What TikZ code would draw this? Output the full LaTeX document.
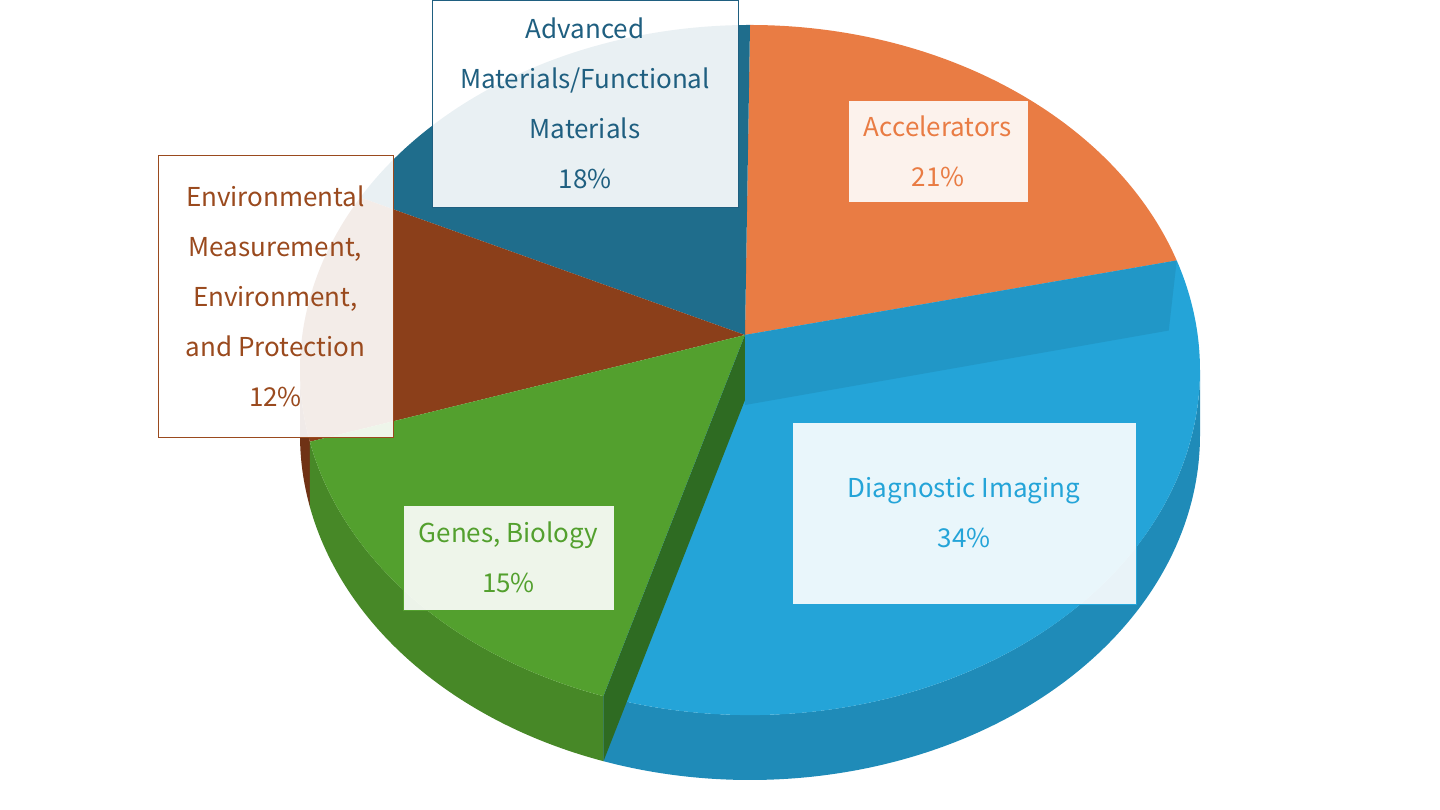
\documentclass[tikz,border=0pt]{standalone}
\usepackage{fontspec}
\setmainfont{Noto Sans CJK JP}
\usetikzlibrary{calc}
\begin{document}
\begin{tikzpicture}[x=1pt,y=1pt,
  ell/.style={x radius=450,y radius=345},
  lbl/.style={draw=#1, line width=0.8pt, fill=white, fill opacity=0.9, text opacity=1, text=#1, align=center, font=\fontsize{26}{50}\selectfont, inner sep=0pt}]
\useasboundingbox (0,0) rectangle (1440,810);
\definecolor{cor}{HTML}{E97C44}\definecolor{cbl}{HTML}{24A4D8}
\definecolor{cdb}{HTML}{1F6D8C}\definecolor{cbr}{HTML}{8B3F1A}
\definecolor{cgr}{HTML}{53A02E}\definecolor{cdg}{HTML}{2E6B22}
\definecolor{tdb}{HTML}{1F5F80}\definecolor{tbr}{HTML}{9A4A1E}
\coordinate (A) at (745,475);
\coordinate (C) at (750,440);
% sides
\fill[cbr!80!black] ([shift={(C)}]180:450 and 345) arc[start angle=180,end angle=192,ell] -- ++(0,-65) arc[start angle=192,end angle=180,ell] -- cycle;
\fill[cgr!85!black] ([shift={(C)}]192:450 and 345) arc[start angle=192,end angle=251,ell] -- ++(0,-65) arc[start angle=251,end angle=192,ell] -- cycle;
\fill[cbl!85!black] ([shift={(C)}]251:450 and 345) arc[start angle=251,end angle=360,ell] -- ++(0,-65) arc[start angle=360,end angle=251,ell] -- cycle;
% tops
\fill[cor] (A) -- ([shift={(C)}]18.5:450 and 345) arc[start angle=18.5,end angle=90,ell] -- cycle;
\fill[cdb] (A) -- ([shift={(C)}]90:450 and 345) arc[start angle=90,end angle=150,ell] -- cycle;
\fill[cbr] (A) -- ([shift={(C)}]150:450 and 345) arc[start angle=150,end angle=192,ell] -- cycle;
\fill[cgr] (A) -- ([shift={(C)}]192:450 and 345) arc[start angle=192,end angle=251,ell] -- cycle;
\fill[cbl] (A) -- ([shift={(C)}]251:450 and 345) arc[start angle=251,end angle=378.5,ell] -- cycle;
% facets
\coordinate (G1) at ([shift={(C)}]251:450 and 345);
\fill[cdg] (A) -- (G1) -- ($(G1)+(0,-65)$) -- ($(A)+(0,-65)$) -- cycle;
\coordinate (B1) at ([shift={(C)}]18.5:450 and 345);
\fill[cbl!92!black] (A) -- (B1) -- ($(B1)+(-8,-70)$) -- ($(A)+(0,-70)$) -- cycle;
% labels
\node[lbl=tdb, minimum width=306, minimum height=207] (adv) at (585,706.5) {Advanced\\Materials/Functional\\Materials\\18\%};
\node[lbl=cor, minimum width=180, minimum height=102] (acc) at (938,659) {Accelerators\\21\%};
\node[lbl=tbr, minimum width=235, minimum height=282] (env) at (275.5,514) {Environmental\\Measurement,\\Environment,\\and Protection\\12\%};
\node[lbl=cbl, minimum width=344, minimum height=182] (dia) at (964,297) {Diagnostic Imaging\\34\%};
\node[lbl=cgr, minimum width=211, minimum height=105] (gen) at (508.5,252.5) {Genes, Biology\\15\%};
\end{tikzpicture}
\end{document}
